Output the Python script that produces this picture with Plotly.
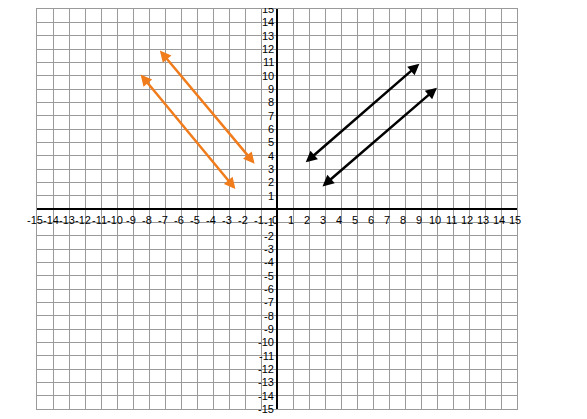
import plotly.graph_objects as go

ticks = list(range(-15, 16))
# segment endpoints: (x0, y0, x1, y1)
orange_segments = [(-8.6, 10.2, -2.6, 1.5), (-7.4, 12.0, -1.4, 3.4)]
black_segments = [(1.7, 3.4, 8.9, 10.9), (2.75, 1.6, 10.0, 9.1)]

fig = go.Figure()
fig.add_trace(go.Scatter(x=[-15, 15], y=[-15, 15], mode="markers",
                         marker=dict(opacity=0), hoverinfo="skip"))

annotations = []
for segs, color in ((orange_segments, "#f07c1c"), (black_segments, "black")):
    for x0, y0, x1, y1 in segs:
        annotations.append(dict(
            x=x1, y=y1, ax=x0, ay=y0, xref="x", yref="y", axref="x", ayref="y",
            text="", showarrow=True, arrowhead=2, arrowsize=0.9, arrowwidth=2.5,
            arrowcolor=color, arrowside="end+start"))

for t in ticks:
    annotations.append(dict(x=t, y=0, xref="x", yref="y", text=str(t),
                            showarrow=False, yshift=-11, xshift=-2,
                            font=dict(size=11, color="black")))
    if t != 0:
        annotations.append(dict(x=0, y=t, xref="x", yref="y", text=str(t),
                                showarrow=False, xanchor="right", xshift=-1,
                                font=dict(size=11, color="black")))

axis = dict(range=[-15, 15], tickvals=ticks, showticklabels=False,
            showgrid=True, gridcolor="#9a9a9a", gridwidth=1,
            zeroline=True, zerolinecolor="black", zerolinewidth=1.5,
            showline=True, linecolor="#9a9a9a", mirror=True, fixedrange=True)

fig.update_layout(
    width=587, height=419,
    margin=dict(l=29, r=78, t=1, b=18),
    plot_bgcolor="white", paper_bgcolor="white",
    showlegend=False,
    xaxis=axis, yaxis=axis,
    annotations=annotations,
    font=dict(family="Liberation Sans"),
)
fig.write_html("out.html")
